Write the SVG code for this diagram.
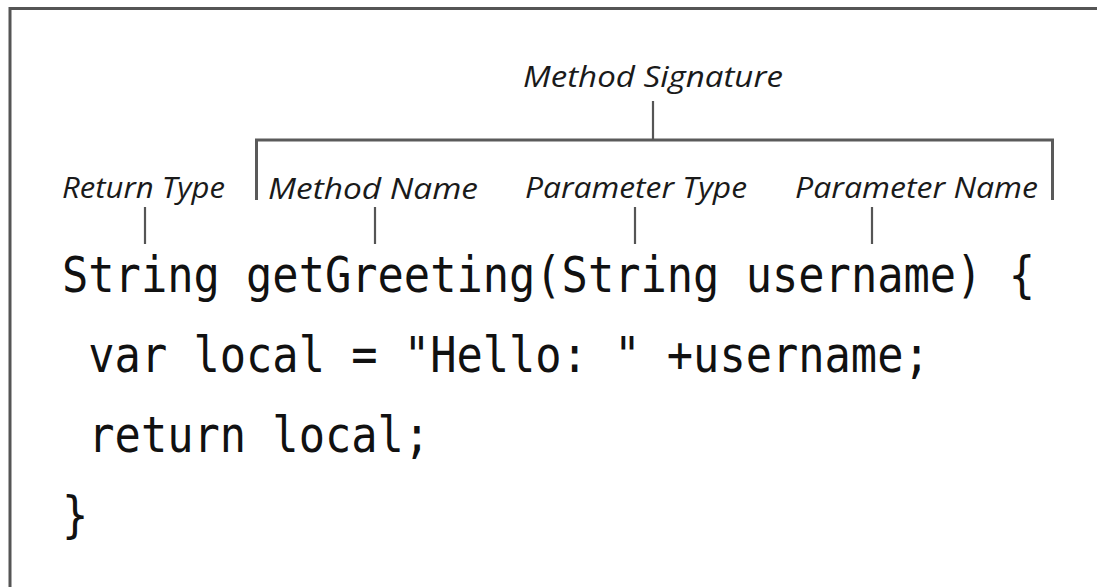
<svg xmlns="http://www.w3.org/2000/svg" width="1097" height="587" viewBox="0 0 1097 587">
  <style>
    .label { font-family: "Open Sans", "Noto Sans", "Liberation Sans", sans-serif; font-style: italic; font-size: 30px; fill: #1a1a1a; }
    .code { font-family: "DejaVu Sans Mono", "Liberation Mono", monospace; font-size: 50px; fill: #111; }
    .frame { fill: none; stroke: #555; stroke-width: 3; }
    .bracket { fill: none; stroke: #5a5a5a; stroke-width: 3; }
    .tick { fill: none; stroke: #555; stroke-width: 2.2; }
  </style>
  <rect width="1097" height="587" fill="#fff"/>

  <!-- outer frame: top and left edges only -->
  <path class="frame" d="M10 600 V8.5 H1100"/>

  <!-- labels -->
  <g id="method-signature">
    <text class="label" x="523" y="87" textLength="260" lengthAdjust="spacingAndGlyphs">Method Signature</text>
  </g>
  <g id="return-type">
    <text class="label" x="62" y="198" textLength="163" lengthAdjust="spacingAndGlyphs">Return Type</text>
  </g>
  <g id="method-name">
    <text class="label" x="268" y="199" textLength="210" lengthAdjust="spacingAndGlyphs">Method Name</text>
  </g>
  <g id="parameter-type">
    <text class="label" x="525" y="198" textLength="222" lengthAdjust="spacingAndGlyphs">Parameter Type</text>
  </g>
  <g id="parameter-name">
    <text class="label" x="795" y="198" textLength="243" lengthAdjust="spacingAndGlyphs">Parameter Name</text>
  </g>

  <!-- code listing, monospace narrowed to a 26.3px cell -->
  <g id="code" transform="translate(62 0) scale(0.8738 1)">
    <text class="code" x="0" y="292">String getGreeting(String username) {</text>
    <text class="code" x="30.1" y="372">var local = "Hello: " +username;</text>
    <text class="code" x="30.1" y="452">return local;</text>
    <text class="code" x="0" y="532">}</text>
  </g>

  <!-- connectors: signature bracket and pointer ticks -->
  <g id="connectors">
    <path class="bracket" d="M256.5 200 V140 H1052.5 V200"/>
    <path class="tick" d="M653 101 V140"/>
    <path class="tick" d="M145 207 V244"/>
    <path class="tick" d="M375 207 V244"/>
    <path class="tick" d="M635 207 V244"/>
    <path class="tick" d="M872 207 V244"/>
  </g>
</svg>
